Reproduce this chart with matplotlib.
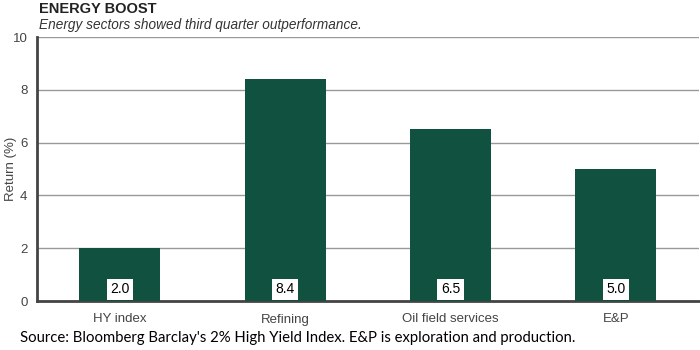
import matplotlib.pyplot as plt
import numpy as np

categories = ['HY index', 'Refining', 'Oil field services', 'E&P']
returns = [2.0, 8.4, 6.5, 5.0]
yticks = [0, 2, 4, 6, 8, 10]

green = '#10523f'
narrow = ['Liberation Sans', 'DejaVu Sans']

fig = plt.figure(figsize=(7, 3.5), dpi=100)
ax = fig.add_axes([0.053, 0.14, 0.945, 0.754])

x = np.arange(len(categories))
ax.bar(x, returns, width=0.49, color=green, zorder=3)

# value boxes at the foot of each bar
for xi, v in zip(x, returns):
    ax.text(xi, 0.45, f'{v:.1f}', ha='center', va='center', fontsize=10,
            family=narrow, color='black', zorder=4,
            bbox=dict(facecolor='white', edgecolor='none', pad=2.5))

ax.set_xlim(-0.5, 3.5)
ax.set_ylim(0, 10)
ax.set_yticks(yticks)
ax.set_xticks(x)
ax.set_xticklabels(categories, family=narrow, fontsize=9.5, color='#444444')
for lab in ax.get_yticklabels():
    lab.set_family(narrow)
    lab.set_fontsize(9.5)
    lab.set_color('#444444')
ax.tick_params(length=0, pad=7)
ax.tick_params(axis='x', pad=9)
ax.grid(axis='y', color='#999999', linewidth=1, zorder=0)

for s in ['top', 'right']:
    ax.spines[s].set_visible(False)
ax.spines['left'].set_color('#444444')
ax.spines['left'].set_linewidth(2)
ax.spines['bottom'].set_color('#444444')
ax.spines['bottom'].set_linewidth(2)

ax.set_ylabel('Return (%)', family=narrow, fontsize=9.5, color='#444444')
ax.yaxis.set_label_coords(-0.031, 0.5)

fig.text(0.056, 0.975, 'ENERGY BOOST', family=narrow, fontsize=10.5,
         fontweight='bold', color='#222222', va='center')
fig.text(0.056, 0.93, 'Energy sectors showed third quarter outperformance.',
         family=narrow, fontsize=9.8, style='italic', color='#333333', va='center')
fig.text(0.028, 0.033, "Source: Bloomberg Barclay's 2% High Yield Index. E&P is exploration and production.",
         family=['Lato', 'DejaVu Sans'], fontsize=10.7, color='black', va='center')

fig.savefig('out.png', dpi=100)
